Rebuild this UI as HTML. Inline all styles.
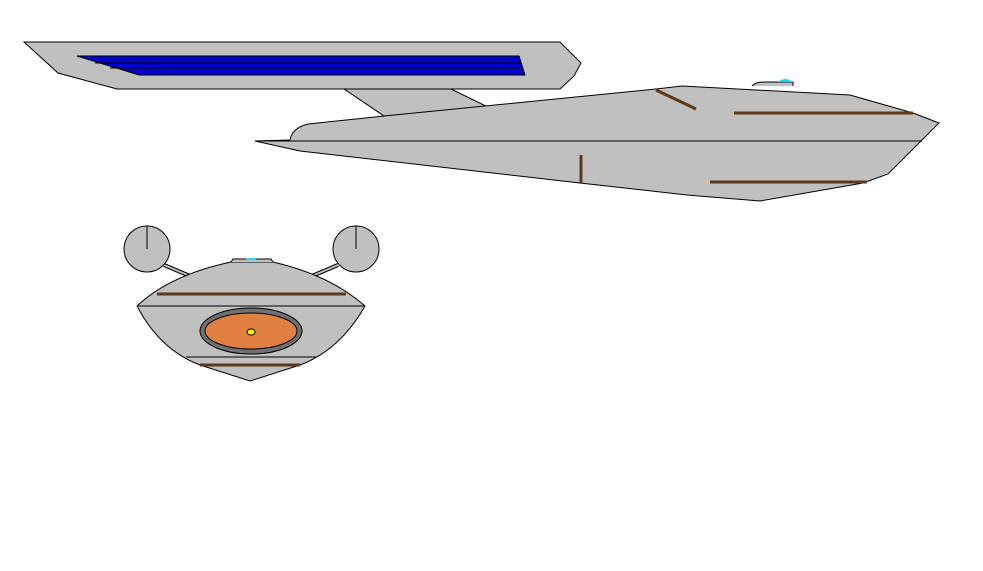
<!DOCTYPE html>
<html><head><meta charset="utf-8"><style>html,body{margin:0;padding:0;background:#fff;}svg{display:block}</style></head><body>
<svg width="983" height="571" viewBox="0 0 983 571" xmlns="http://www.w3.org/2000/svg">
<rect width="983" height="571" fill="#fff"/>
<g stroke="#000" stroke-width="1" fill="#c0c0c0">
<!-- pylon -->
<polygon points="344,89 451,89 490,108 384,116"/>
<!-- nacelle -->
<polygon points="24,42 560,42 581,63 574,76 560,89 117,89 58,73"/>
<polygon points="77,56 519,56 525,75 139,75" fill="#0000cc"/>
<line x1="95" y1="63" x2="521" y2="63"/>
<line x1="110" y1="68" x2="523" y2="68"/>
<!-- hull -->
<path d="M255,141 L290,140 Q292,128 308,124 L384,116 L656,89 L682,86 L850,95 L913,113 L939,123 L888,174 L863,183 L760,201 L687,195 L580,183 L300,151 Z"/>
<line x1="255" y1="141" x2="922" y2="141"/>
<path d="M752,86 Q755,82 765,82 L793,82 L793,86" />
<path d="M778,82 Q785,76 793,82 Z" fill="#00e0f0" stroke="none"/>
</g>
<g stroke="#5a3a1a" stroke-width="3">
<line x1="656" y1="90" x2="696" y2="109"/>
<line x1="734" y1="113" x2="913" y2="113"/>
<line x1="710" y1="182" x2="867" y2="182"/>
<line x1="581" y1="155" x2="581" y2="183"/>
</g>
<!-- saucer front view -->
<g stroke="#000" stroke-width="1" fill="#c0c0c0">
<line x1="164" y1="265" x2="190" y2="276" stroke-width="4" stroke="#000"/>
<line x1="164" y1="265" x2="190" y2="276" stroke-width="2" stroke="#c0c0c0"/>
<line x1="338" y1="265" x2="312" y2="276" stroke-width="4" stroke="#000"/>
<line x1="338" y1="265" x2="312" y2="276" stroke-width="2" stroke="#c0c0c0"/>
<circle cx="147" cy="249" r="23"/>
<line x1="147" y1="226" x2="147" y2="249"/>
<circle cx="356" cy="249" r="23"/>
<line x1="356" y1="226" x2="356" y2="249"/>
<path d="M137,306 Q170,275 231,262 L273,262 Q330,275 365,306 Q340,350 300,365 L250,381 L200,365 Q160,350 137,306 Z"/>
<line x1="137" y1="306" x2="365" y2="306"/>
<line x1="186" y1="357" x2="316" y2="357"/>
<path d="M231,262 L233,259 L271,259 L273,262" />
<path d="M244,260 Q251,256 258,260 Z" fill="#00e0f0" stroke="none"/>
<ellipse cx="251" cy="331" rx="51" ry="23" fill="#707070"/>
<ellipse cx="251" cy="331" rx="46" ry="18" fill="#e08040"/>
<ellipse cx="251" cy="332" rx="4" ry="3" fill="#ffff00"/>
</g>
<g stroke="#5a3a1a" stroke-width="3">
<line x1="157" y1="294" x2="346" y2="294"/>
<line x1="200" y1="365" x2="300" y2="365"/>
</g>
</svg>
</body></html>
